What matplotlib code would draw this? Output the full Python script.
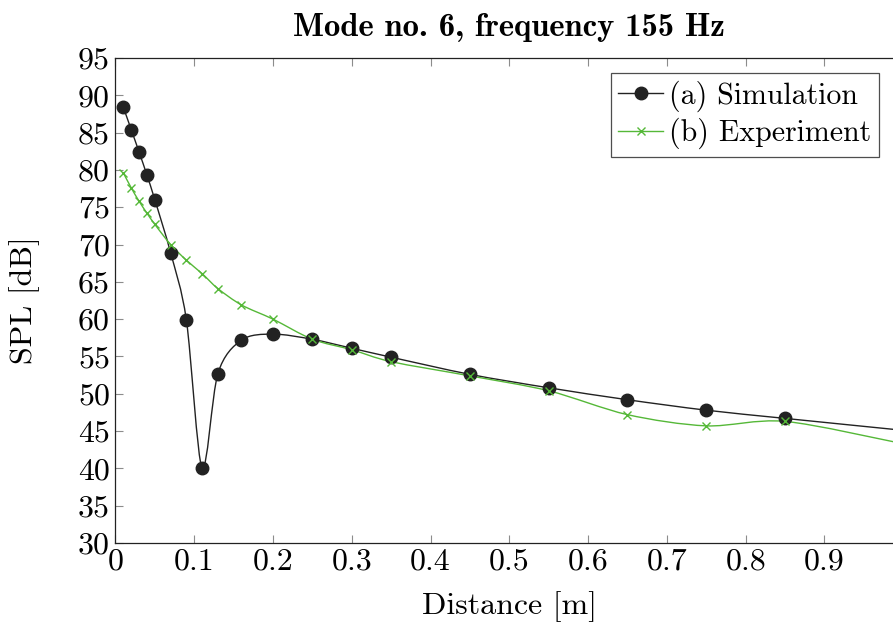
import matplotlib

matplotlib.use("Agg")
import numpy as np
from matplotlib import pyplot as plt
from matplotlib.path import Path
from matplotlib.patches import PathPatch

dist_sim = [0.01, 0.02, 0.03, 0.04, 0.05, 0.07, 0.09, 0.11, 0.13, 0.16, 0.20,
            0.25, 0.30, 0.35, 0.45, 0.55, 0.65, 0.75, 0.85, 1.00]
spl_sim = [88.4, 85.4, 82.4, 79.3, 76.0, 68.9, 59.9, 40.0, 52.7, 57.2, 58.0,
           57.3, 56.1, 54.9, 52.6, 50.8, 49.2, 47.8, 46.7, 45.1]

dist_exp = [0.01, 0.02, 0.03, 0.04, 0.05, 0.07, 0.09, 0.11, 0.13, 0.16, 0.20,
            0.25, 0.30, 0.35, 0.45, 0.55, 0.65, 0.75, 0.85, 1.00]
spl_exp = [79.6, 77.6, 75.8, 74.2, 72.7, 70.0, 67.9, 66.1, 64.1, 61.9, 60.0,
           57.3, 55.9, 54.3, 52.4, 50.4, 47.2, 45.7, 46.3, 43.3]

x_ticks = [0, 0.1, 0.2, 0.3, 0.4, 0.5, 0.6, 0.7, 0.8, 0.9]
y_ticks = list(range(30, 100, 5))

GREEN = '#55b838'
BLACK = '#222222'

plt.rcParams['font.family'] = 'cmr10'
plt.rcParams['mathtext.fontset'] = 'cm'
plt.rcParams['axes.unicode_minus'] = False
plt.rcParams['font.size'] = 23


def smooth_path(xs, ys, k=0.15):
    # catmull-rom style bezier through the points, like pgfplots "smooth"
    p = np.column_stack([xs, ys])
    verts = [p[0]]
    codes = [Path.MOVETO]
    n = len(p)
    for i in range(n - 1):
        prev_p = p[i - 1] if i > 0 else p[i]
        next_p = p[i + 2] if i + 2 < n else p[i + 1]
        c1 = p[i] + (p[i + 1] - prev_p) * k
        c2 = p[i + 1] - (next_p - p[i]) * k
        verts += [c1, c2, p[i + 1]]
        codes += [Path.CURVE4] * 3
    return Path(verts, codes)


fig = plt.figure(figsize=(8.93, 6.25), dpi=100)
ax = fig.add_axes([0.1293, 0.1312, 0.8821, 0.776])

ax.add_patch(PathPatch(smooth_path(dist_sim, spl_sim), fill=False,
                       edgecolor=BLACK, lw=1.0, zorder=2))
ax.add_patch(PathPatch(smooth_path(dist_exp, spl_exp), fill=False,
                       edgecolor=GREEN, lw=1.0, zorder=3))
ax.plot(dist_sim, spl_sim, ls='none', marker='o', ms=9, color=BLACK, zorder=4)
ax.plot(dist_exp, spl_exp, ls='none', marker='x', ms=6, mew=1.0,
        color=GREEN, zorder=5)

# legend handles
h1, = ax.plot([], [], '-', marker='o', ms=9, color=BLACK, lw=1.0)
h2, = ax.plot([], [], '-', marker='x', ms=6, mew=1.0, color=GREEN, lw=1.0)
leg = ax.legend([h1, h2], ['(a) Simulation', '(b) Experiment'],
                loc='upper left', bbox_to_anchor=(0.629, 0.969),
                frameon=True, fancybox=False, edgecolor=BLACK,
                fontsize=21.5, borderpad=0.25, handlelength=1.5,
                handletextpad=0.2, labelspacing=0.2, borderaxespad=0)
leg.get_frame().set_linewidth(0.9)

ax.set_xlim(0, 1.0)
ax.set_ylim(30, 95)
ax.set_xticks(x_ticks)
ax.set_xticklabels(['0'] + ['%.1f' % v for v in x_ticks[1:]])
ax.set_yticks(y_ticks)
ax.tick_params(direction='in', length=6, width=0.8, color='0.55',
               top=True, right=True, pad=4)
for s in ax.spines.values():
    s.set_color(BLACK)
    s.set_linewidth(0.9)

ax.set_xlabel('Distance [m]', labelpad=11)
ax.set_ylabel('SPL [dB]', labelpad=27)
ax.set_title('Mode no. 6, frequency 155 Hz', fontfamily='cmb10',
             fontsize=23.5, pad=16)

fig.savefig('out.png', dpi=100)
